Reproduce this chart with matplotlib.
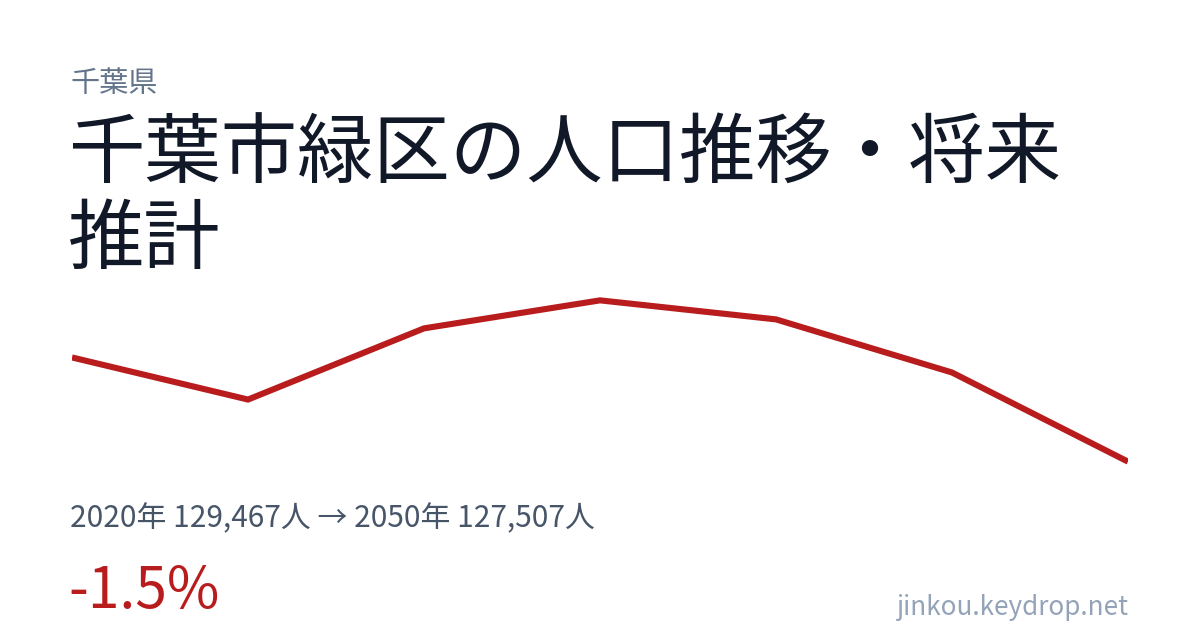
import matplotlib
matplotlib.use("Agg")
import matplotlib.pyplot as plt

plt.rcParams['font.family'] = ['Noto Sans CJK JP', 'DejaVu Sans']

# データ
years = [2020, 2025, 2030, 2035, 2040, 2045, 2050]
population = [129467, 128675, 130014, 130541, 130183, 129184, 127507]

pref = "千葉県"
title_lines = ["千葉市緑区の人口推移・将来", "推計"]
site = "jinkou.keydrop.net"

W, H = 1200, 630
fig = plt.figure(figsize=(W / 100, H / 100), dpi=100)
fig.patch.set_facecolor("white")

def px(x, y):
    # ピクセル座標 (左上原点) -> figure座標
    return x / W, 1 - y / H

# 折れ線
ax = fig.add_axes([72 / W, 1 - 481 / H, (1128 - 72) / W, 200 / H])
ax.plot(years, population, color="#b91c1c", linewidth=4.4, solid_capstyle="butt",
        solid_joinstyle="miter")
ax.set_xlim(years[0], years[-1])
pad = 0.12 * (max(population) - min(population))
ax.set_ylim(min(population) - pad, max(population) + pad)
ax.axis("off")

# テキスト
fig.text(*px(70, 92), pref, fontsize=21, color="#64748b", va="baseline")
fig.text(*px(68, 178), title_lines[0], fontsize=55, color="#111827", va="baseline")
fig.text(*px(68, 263), title_lines[1], fontsize=55, color="#111827", va="baseline")

first, last = population[0], population[-1]
change = (last - first) / first * 100
summary = f"{years[0]}年 {first:,}人 → {years[-1]}年 {last:,}人"
fig.text(*px(70, 527), summary, fontsize=21.5, color="#475569", va="baseline")
fig.text(*px(68, 608), f"{change:.1f}%", fontsize=41, color="#b91c1c", va="baseline")
fig.text(*px(1128, 615), site, fontsize=18.8, color="#94a3b8", va="baseline", ha="right")

fig.savefig("out.png", dpi=100)
